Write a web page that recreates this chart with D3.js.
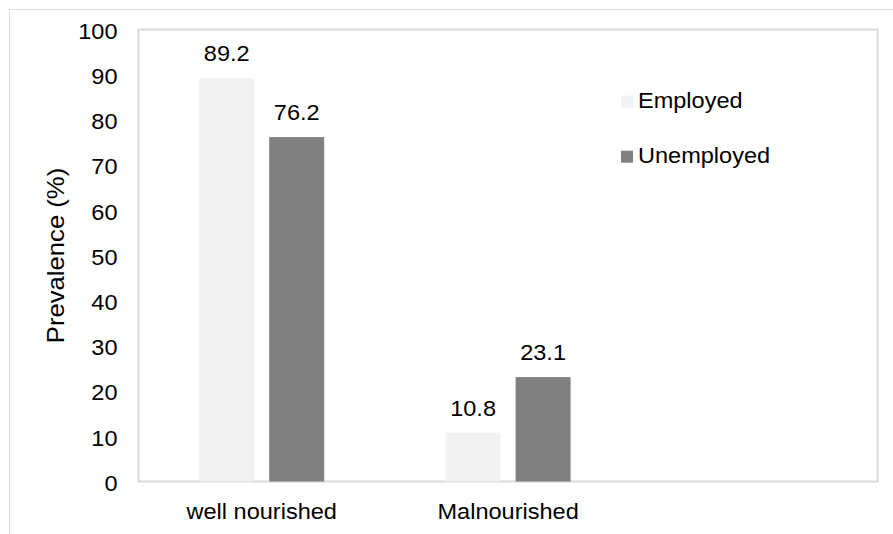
<!DOCTYPE html>
<html><head><meta charset="utf-8">
<script src="https://cdn.jsdelivr.net/npm/d3@7"></script>
<style>body{margin:0;background:#fff}text{font-family:"Liberation Sans",Arial,sans-serif;fill:#000}</style>
</head><body>
<svg id="c" width="893" height="534"></svg>
<script>
const categories = ["well nourished", "Malnourished", ""];
const seriesNames = ["Employed", "Unemployed"];
const employed = [89.2, 10.8, null];
const unemployed = [76.2, 23.1, null];
const yTicks = [0,10,20,30,40,50,60,70,80,90,100];
const colors = ["#f2f2f2", "#808080"];

const svg = d3.select("#c");
const FS = 22, SX = 1.07;
const L = 138.5, R = 877.7, T = 29.5, B = 481.5;

// outer chart border
svg.append("rect").attr("x",9.5).attr("y",9.5).attr("width",950).attr("height",600)
  .attr("fill","none").attr("stroke","#d9d9d9").attr("stroke-width",1);

const x = d3.scaleBand().domain(categories).range([L, R]);
const y = d3.scaleLinear().domain([0,100]).range([B, T]);
const barW = 55, gap = 15;
const sx = d3.scaleOrdinal().domain(seriesNames).range([-(gap/2+barW), gap/2]);

function txt(g, xx, yy, s, anchor, base){
  const t = g.append("g").attr("transform",`translate(${xx},${yy}) scale(${SX},1)`)
    .append("text").attr("text-anchor",anchor||"middle").attr("font-size",FS).text(s);
  if(base) t.attr("dominant-baseline",base);
  return t;
}

// plot area border
svg.append("rect").attr("x",L).attr("y",T).attr("width",R-L).attr("height",B-T)
  .attr("fill","none").attr("stroke","#d9d9d9").attr("stroke-width",2);

// bars
const data = [];
categories.forEach((c,i)=>{
  [employed, unemployed].forEach((arr,k)=>{
    if(arr[i]!=null) data.push({c, s:seriesNames[k], v:arr[i], k});
  });
});
const gb = svg.append("g");
gb.selectAll("rect").data(data).enter().append("rect")
  .attr("x", d=>x(d.c)+x.bandwidth()/2+sx(d.s))
  .attr("y", d=>y(d.v)).attr("width", barW)
  .attr("height", d=>y(0)-y(d.v)).attr("fill", d=>colors[d.k]);

// data labels
const gl = svg.append("g");
data.forEach(d=>{
  txt(gl, x(d.c)+x.bandwidth()/2+sx(d.s)+barW/2, y(d.v)-17, d.v.toFixed(1));
});

// y axis tick labels
const yAxis = d3.axisLeft(y).tickValues(yTicks).tickSize(0).tickPadding(0);
const ga = svg.append("g").attr("transform",`translate(${L},0)`).call(yAxis);
ga.select(".domain").remove();
ga.selectAll(".tick text").remove();
ga.selectAll(".tick").each(function(d){
  const g = d3.select(this);
  g.append("g").attr("transform",`translate(-21,0) scale(${SX},1)`)
   .append("text").attr("text-anchor","end").attr("dominant-baseline","central")
   .attr("font-size",FS).attr("y",1).text(d);
});

// x axis labels
const xAxis = d3.axisBottom(x).tickSize(0);
const gx = svg.append("g").attr("transform",`translate(0,${B})`).call(xAxis);
gx.select(".domain").remove();
gx.selectAll(".tick text").remove();
gx.selectAll(".tick").each(function(d){
  if(!d) return;
  d3.select(this).append("g").attr("transform",`translate(0,37) scale(${SX},1)`)
   .append("text").attr("text-anchor","middle").attr("font-size",FS).text(d);
});

// y title
svg.append("g").attr("transform",`translate(64,${(T+B)/2}) rotate(-90) scale(${SX},1)`)
  .append("text").attr("text-anchor","middle").attr("font-size",24).text("Prevalence (%)");

// legend
const lg = svg.append("g");
seriesNames.forEach((s,i)=>{
  const yy = 95.7 + i*55;
  lg.append("rect").attr("x",621).attr("y",yy).attr("width",12).attr("height",12).attr("fill",colors[i]);
  txt(lg, 638, yy+12, s, "start");
});
</script>
</body></html>
